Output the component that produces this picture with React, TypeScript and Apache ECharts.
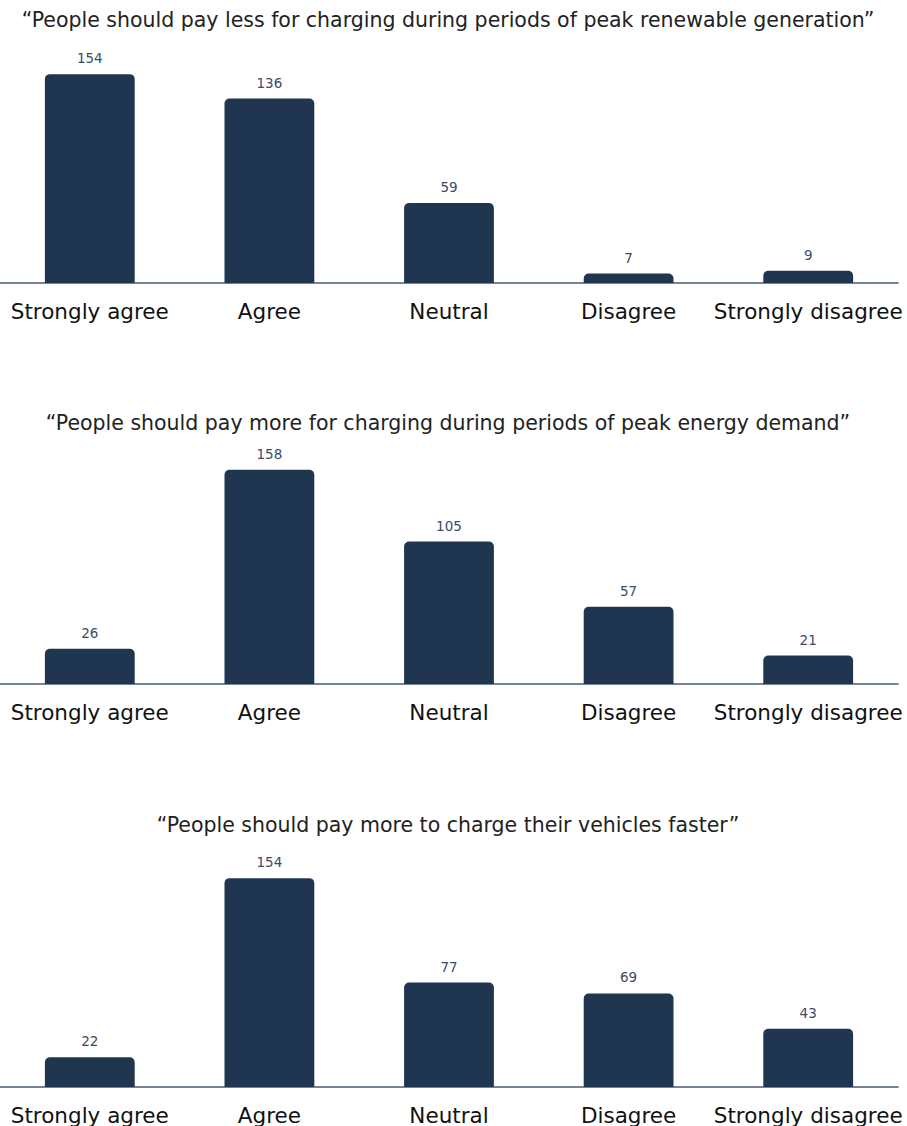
import React, { useEffect, useRef } from "react";
import * as echarts from "echarts";

const categories = ["Strongly agree", "Agree", "Neutral", "Disagree", "Strongly disagree"];
const titles = [
  "\u201cPeople should pay less for charging during periods of peak renewable generation\u201d",
  "\u201cPeople should pay more for charging during periods of peak energy demand\u201d",
  "\u201cPeople should pay more to charge their vehicles faster\u201d",
];
const lessRenewable = [154, 136, 59, 7, 9];
const moreDemand = [26, 158, 105, 57, 21];
const moreFaster = [22, 154, 77, 69, 43];
const seriesData = [lessRenewable, moreDemand, moreFaster];

const FONT = "'DejaVu Sans', sans-serif";
const BAR = "#1f3550";

export default function App() {
  const ref = useRef<HTMLDivElement>(null);
  useEffect(() => {
    if (!ref.current) return;
    const chart = echarts.init(ref.current, undefined, { renderer: "svg" });
    const baselines = [283, 684, 1087];
    const gridH = 217;
    const titleY = [20, 423, 825];
    chart.setOption({
      animation: false,
      title: titles.map((t, i) => ({
        text: t,
        left: 448,
        textAlign: "center",
        top: titleY[i] - 12,
        padding: 0,
        textStyle: {
          fontFamily: FONT,
          fontSize: 20.5,
          lineHeight: 24,
          fontWeight: "normal",
          color: "#222",
        },
      })),
      grid: baselines.map((b) => ({
        left: -2,
        width: 900,
        top: b - gridH,
        height: gridH,
        containLabel: false,
      })),
      xAxis: baselines.map((_, i) => ({
        type: "category",
        gridIndex: i,
        data: categories,
        axisLine: { show: true, lineStyle: { color: "#4a5a73", width: 1.5 } },
        axisTick: { show: false },
        axisLabel: {
          fontFamily: FONT,
          fontSize: 21.5,
          lineHeight: 22,
          color: "#111",
          margin: 17,
          interval: 0,
        },
      })),
      yAxis: baselines.map((_, i) => ({
        type: "value",
        gridIndex: i,
        min: 0,
        max: 160,
        show: false,
        splitLine: { show: false },
      })),
      series: seriesData.map((d, i) => ({
        type: "bar",
        xAxisIndex: i,
        yAxisIndex: i,
        data: d,
        barWidth: "50%",
        itemStyle: { color: BAR, borderRadius: [5, 5, 0, 0] },
        label: {
          show: true,
          position: "top",
          distance: 9,
          fontFamily: FONT,
          fontSize: 13.5,
          color: "#3b4b66",
        },
      })),
    });
    return () => chart.dispose();
  }, []);
  return (
    <div
      ref={ref}
      style={{ position: "absolute", left: 0, top: 0, width: 907, height: 1126 }}
    />
  );
}
